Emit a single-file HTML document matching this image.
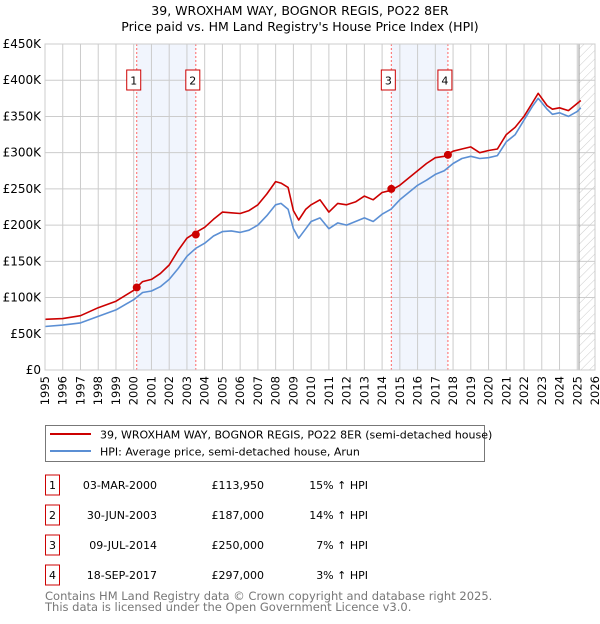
<!DOCTYPE html>
<html><head><meta charset="utf-8"><style>
body{margin:0;background:#fff;font-family:"DejaVu Sans","Liberation Sans",sans-serif;}
svg text{font-family:"DejaVu Sans","Liberation Sans",sans-serif;}
</style></head><body>
<svg id="chart" width="600" height="620" viewBox="0 0 600 620" xmlns="http://www.w3.org/2000/svg">
<defs><pattern id="hatch" patternUnits="userSpaceOnUse" width="6" height="6" patternTransform="rotate(45)"><line x1="0" y1="0" x2="0" y2="6" stroke="#ccc" stroke-width="1"/></pattern></defs>
<text x="300" y="15" text-anchor="middle" font-size="12.5">39, WROXHAM WAY, BOGNOR REGIS, PO22 8ER</text>
<text x="300" y="31" text-anchor="middle" font-size="12.5">Price paid vs. HM Land Registry's House Price Index (HPI)</text>
<g id="plot"></g>
<g>
<rect x="45.5" y="425.5" width="439" height="36" fill="#fff" stroke="#777"/>
<line x1="50" y1="434" x2="91" y2="434" stroke="#cc0000" stroke-width="2"/>
<text x="100" y="438.5" font-size="11">39, WROXHAM WAY, BOGNOR REGIS, PO22 8ER (semi-detached house)</text>
<line x1="50" y1="451" x2="91" y2="451" stroke="#5b8fd4" stroke-width="2"/>
<text x="100" y="455.5" font-size="11">HPI: Average price, semi-detached house, Arun</text>
</g>
<g id="table" font-size="11"></g>
<text x="45" y="600" font-size="11.5" fill="#777">Contains HM Land Registry data © Crown copyright and database right 2025.</text>
<text x="45" y="611" font-size="11.5" fill="#777">This data is licensed under the Open Government Licence v3.0.</text>
</svg>
<script>
const hpiYears=[1995,1996,1997,1998,1999,2000,2000.5,2001,2001.5,2002,2002.5,2003,2003.5,2004,2004.5,2005,2005.5,2006,2006.5,2007,2007.5,2008,2008.3,2008.7,2009,2009.3,2009.7,2010,2010.5,2011,2011.5,2012,2012.5,2013,2013.5,2014,2014.5,2015,2015.5,2016,2016.5,2017,2017.5,2018,2018.5,2019,2019.5,2020,2020.5,2021,2021.5,2022,2022.5,2022.8,2023.3,2023.6,2024,2024.5,2025,2025.2];
const hpiValues=[60000,62000,65000,74000,83000,97000,107000,109000,115000,125000,140000,157000,168000,175000,185000,191000,192000,190000,193000,200000,213000,228000,230000,222000,195000,182000,195000,205000,210000,195000,203000,200000,205000,210000,205000,215000,222000,235000,245000,255000,262000,270000,275000,285000,292000,295000,292000,293000,296000,315000,325000,345000,365000,375000,360000,353000,355000,350000,357000,362000];
const priceValues=[70000,71000,75000,86000,95000,110000,122000,125000,133000,145000,165000,182000,190000,197000,208000,218000,217000,216000,220000,228000,243000,260000,258000,252000,220000,207000,222000,228000,235000,218000,230000,228000,232000,240000,235000,245000,248000,255000,265000,275000,285000,293000,295000,302000,305000,308000,300000,303000,305000,325000,335000,350000,370000,382000,365000,360000,362000,358000,368000,372000];
const saleYears=[2000.17,2003.5,2014.52,2017.71];
const salePrices=[113950,187000,250000,297000];
const saleDates=["03-MAR-2000","30-JUN-2003","09-JUL-2014","18-SEP-2017"];
const salePriceLabels=["£113,950","£187,000","£250,000","£297,000"];
const saleDiffs=["15% ↑ HPI","14% ↑ HPI","7% ↑ HPI","3% ↑ HPI"];
const yTicks=[0,50000,100000,150000,200000,250000,300000,350000,400000,450000];
const yTickLabels=["£0","£50K","£100K","£150K","£200K","£250K","£300K","£350K","£400K","£450K"];
const xTicks=[1995,1996,1997,1998,1999,2000,2001,2002,2003,2004,2005,2006,2007,2008,2009,2010,2011,2012,2013,2014,2015,2016,2017,2018,2019,2020,2021,2022,2023,2024,2025,2026];

const NS="http://www.w3.org/2000/svg";
const X0=45,X1=595,Y0=370,Y1=44;
const xs=y=>X0+(y-1995)/(2026-1995)*(X1-X0);
const ys=v=>Y0-v/450000*(Y0-Y1);
const plot=document.getElementById('plot');
function mk(tag,attrs,parent){const e=document.createElementNS(NS,tag);for(const k in attrs)e.setAttribute(k,attrs[k]);(parent||plot).appendChild(e);return e;}

for(let i=0;i<4;i+=2){
  const r=mk('rect',{x:xs(saleYears[i]),y:Y1,width:xs(saleYears[i+1])-xs(saleYears[i]),height:Y0-Y1,fill:'#eef3fc',opacity:0.8});
  
  
}
const h=mk('rect',{x:xs(2025.1),y:Y1,width:X1-xs(2025.1),height:Y0-Y1,fill:'url(#hatch)'});


xTicks.forEach(t=>{
  const l=mk('line',{x1:xs(t),x2:xs(t),y1:Y1,y2:Y0,stroke:'#ccc','stroke-width':1});
  
  
  const tx=mk('text',{x:0,y:0,'font-size':11.5,'text-anchor':'end',transform:`translate(${xs(t)+4},${Y0+6}) rotate(-90)`});
  tx.textContent=t;
  
  
});
yTicks.forEach((t,i)=>{
  const l=mk('line',{x1:X0,x2:X1,y1:ys(t),y2:ys(t),stroke:'#ccc','stroke-width':1});
  
  
  const tx=mk('text',{x:X0-4,y:ys(t)+4,'font-size':12,'text-anchor':'end'});
  tx.textContent=yTickLabels[i];
  
  
});
const vl=mk('line',{x1:xs(2025.1),x2:xs(2025.1),y1:Y1,y2:Y0,stroke:'#999','stroke-width':1});


saleYears.forEach((s,i)=>{
  const l=mk('line',{x1:xs(s),x2:xs(s),y1:Y1,y2:Y0,stroke:'#ff6666','stroke-width':1,'stroke-dasharray':'2,2'});
  
  
  const b=mk('rect',{x:xs(s)-10,y:70,width:14,height:20,fill:'#fff',stroke:'#cc0000'});
  
  
  const t=mk('text',{x:xs(s)-3,y:84.5,'font-size':11,'text-anchor':'middle'});
  t.textContent=String(i+1);
  
  
});
function line(vals,color,name){
  const d=hpiYears.map((y,i)=>(i?'L':'M')+xs(y).toFixed(1)+','+ys(vals[i]).toFixed(1)).join('');
  const p=mk('path',{d:d,fill:'none',stroke:color,'stroke-width':1.6,'stroke-linejoin':'round'});
  
  
}
line(hpiValues,'#5b8fd4','hpi-line');
line(priceValues,'#cc0000','price-paid-line');
saleYears.forEach((s,i)=>{
  const c=mk('circle',{cx:xs(s),cy:ys(salePrices[i]),r:4,fill:'#cc0000'});
  
  
});
mk('rect',{x:X0,y:Y1,width:X1-X0,height:Y0-Y1,fill:'none',stroke:'#ccc'});

const tbl=document.getElementById('table');
saleDates.forEach((d,i)=>{
  const yc=485+i*30;
  const b=mk('rect',{x:45.5,y:yc-10,width:14,height:20,fill:'#fff',stroke:'#cc0000'},tbl);
  
  
  const n=mk('text',{x:52.5,y:yc+4,'text-anchor':'middle'},tbl);n.textContent=String(i+1);
  
  
  const t1=mk('text',{x:157,y:yc+4,'text-anchor':'end'},tbl);t1.textContent=d;
  
  
  const t2=mk('text',{x:264,y:yc+4,'text-anchor':'end'},tbl);t2.textContent=salePriceLabels[i];
  
  
  const t3=mk('text',{x:368,y:yc+4,'text-anchor':'end'},tbl);t3.textContent=saleDiffs[i];
  
  
});
</script>
</body></html>
